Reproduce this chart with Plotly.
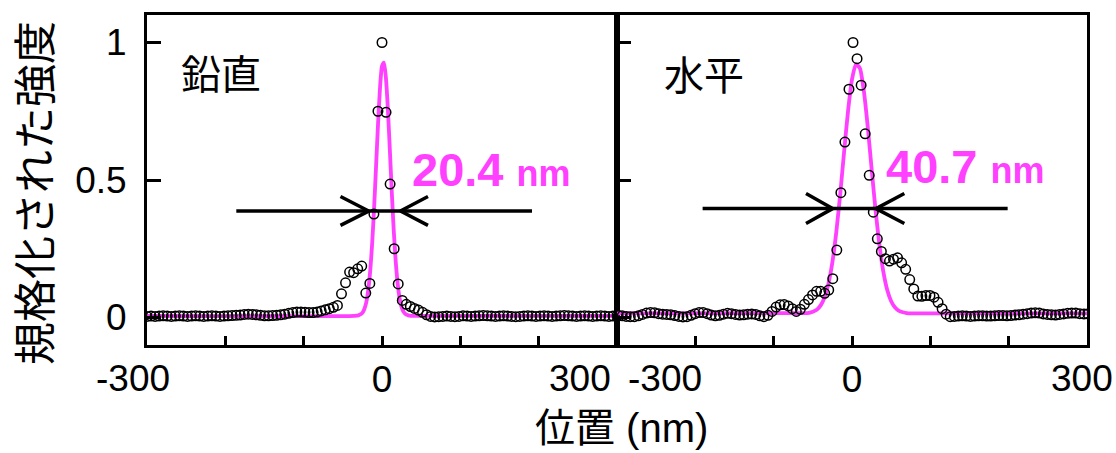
import numpy as np
import plotly.graph_objects as go

# ---------------- data ----------------
# sampling positions (nm)
x_vert = np.round(np.linspace(-300, 300, 117), 2)
x_horz = np.round(1.3 + 5.17 * np.arange(-58, 59), 2)

# normalized intensity, vertical profile (鉛直)
y_vert = [
    0.004, 0.005, 0.004, 0.005, 0.006, 0.005, 0.004, 0.005, 0.006, 0.005,
    0.004, 0.005, 0.006, 0.005, 0.004, 0.005, 0.006, 0.005, 0.004, 0.005,
    0.006, 0.007, 0.008,
    0.009, 0.011, 0.012, 0.011, 0.010, 0.008, 0.006, 0.006, 0.007, 0.008,
    0.010, 0.012, 0.015, 0.018, 0.020, 0.020, 0.019, 0.018, 0.018, 0.020,
    0.024, 0.028, 0.032,
    0.037, 0.044, 0.086, 0.126, 0.165, 0.163, 0.177, 0.187, 0.089, 0.124,
    0.376, 0.750,
    1.000,
    0.746, 0.485, 0.250, 0.122, 0.062, 0.048, 0.040, 0.033, 0.027, 0.019,
    0.010, 0.004, 0.002,
    0.003, 0.004, 0.005, 0.004, 0.003, 0.004, 0.006, 0.005, 0.004, 0.005,
    0.006, 0.007, 0.006, 0.005, 0.004, 0.005, 0.006, 0.005, 0.004, 0.003,
    0.004, 0.005, 0.006, 0.005, 0.004, 0.005, 0.006, 0.005, 0.004, 0.005,
    0.006, 0.007, 0.006, 0.005, 0.004, 0.005, 0.006, 0.005, 0.004, 0.005,
    0.006, 0.005, 0.004, 0.005, 0.006,
]

# normalized intensity, horizontal profile (水平)
y_horz = [
    0.008, 0.006, 0.004, 0.003, 0.003, 0.006, 0.011, 0.016, 0.018, 0.017,
    0.014, 0.012, 0.011, 0.010, 0.007, 0.004, 0.002, 0.003, 0.008, 0.014,
    0.018, 0.018, 0.014, 0.009, 0.006, 0.008, 0.012, 0.015, 0.014, 0.011,
    0.009, 0.010, 0.012, 0.013, 0.011, 0.006, 0.003,
    0.008, 0.022, 0.038, 0.046, 0.047, 0.042, 0.032, 0.022, 0.030, 0.048,
    0.065, 0.082, 0.095, 0.095, 0.088, 0.100, 0.141, 0.245, 0.454, 0.638,
    0.830,
    1.000,
    0.941, 0.845, 0.668, 0.517, 0.383, 0.286, 0.240, 0.214, 0.205, 0.212,
    0.217, 0.199, 0.175, 0.138, 0.104, 0.078, 0.077, 0.080, 0.080, 0.074,
    0.055, 0.032, 0.012, 0.003,
    0.004, 0.005, 0.006, 0.005, 0.004, 0.005, 0.006, 0.006, 0.005, 0.005,
    0.006, 0.007, 0.007, 0.006, 0.007, 0.009, 0.010, 0.012, 0.014, 0.016,
    0.017, 0.016, 0.013, 0.011, 0.010, 0.009, 0.011, 0.013, 0.015, 0.016,
    0.016, 0.014, 0.013, 0.013,
]

# Gaussian fit curves
fit_vert_x = [-300, -35, -30, -27.5, -25, -22.5, -20, -17.5, -15, -12.5, -10, -7.5,
              -5, -2.5, 0, 2.5, 5, 7.5, 10, 12.5, 15, 17.5, 20, 22.5, 25, 27.5, 30,
              32.5, 35, 40, 300]
fit_vert_y = [0.006, 0.006, 0.008, 0.011, 0.017, 0.031, 0.056, 0.101, 0.171, 0.272,
              0.403, 0.555, 0.707, 0.836, 0.914, 0.927, 0.871, 0.758, 0.611, 0.456,
              0.316, 0.204, 0.123, 0.070, 0.038, 0.021, 0.013, 0.009, 0.007, 0.006,
              0.006]
fit_horz_x = [-300, -60, -55, -50, -45, -40, -35, -30, -25, -20, -15, -10, -5, 0, 5,
              10, 15, 20, 25, 30, 35, 40, 45, 50, 55, 60, 65, 70, 75, 300]
fit_horz_y = [0.015, 0.016, 0.017, 0.021, 0.028, 0.044, 0.073, 0.124, 0.202, 0.312,
              0.450, 0.605, 0.752, 0.866, 0.921, 0.907, 0.826, 0.696, 0.542, 0.392,
              0.264, 0.167, 0.100, 0.059, 0.036, 0.024, 0.019, 0.016, 0.015, 0.015]

# FWHM arrow geometry (data units)
arrow_vert_x = [-186, 191.5, None, -53, -17, -53, None, 58.7, 23.5, 58.7]
arrow_vert_y = [0.387, 0.387, None, 0.44, 0.387, 0.335, None, 0.44, 0.387, 0.335]
arrow_horz_x = [-190.7, 198.7, None, -58.7, -24.8, -58.7, None, 66.8, 30.6, 66.8]
arrow_horz_y = [0.396, 0.396, None, 0.451, 0.396, 0.342, None, 0.451, 0.396, 0.342]

panel_labels = ["鉛直", "水平"]
fwhm_labels = ["20.4", "40.7"]
x_tick_vals = [-300, -200, -100, 0, 100, 200, 300]
x_tick_text = ["", "", "", "0", "", "", ""]
y_tick_vals = [0, 0.5, 1]
y_tick_text = ["0", "0.5", "1"]

MAGENTA = "#ff40ff"
FONT = "Liberation Sans, Arial, Noto Sans CJK JP"
CJK = "Noto Sans CJK JP, Liberation Sans"

fig = go.Figure()

for xa, ya, fx, fy, px, py, ax_, ay_ in [
    ("x", "y", fit_vert_x, fit_vert_y, x_vert, y_vert, arrow_vert_x, arrow_vert_y),
    ("x2", "y2", fit_horz_x, fit_horz_y, x_horz, y_horz, arrow_horz_x, arrow_horz_y),
]:
    fig.add_trace(go.Scatter(x=fx, y=fy, mode="lines", xaxis=xa, yaxis=ya,
                             line=dict(color=MAGENTA, width=3.8, shape="spline", smoothing=0.6),
                             showlegend=False, hoverinfo="skip"))
    fig.add_trace(go.Scatter(x=px, y=py, mode="markers", xaxis=xa, yaxis=ya,
                             marker=dict(symbol="circle-open", size=9.5, color="black",
                                         line=dict(width=1.5, color="black")),
                             showlegend=False))
    fig.add_trace(go.Scatter(x=ax_, y=ay_, mode="lines", xaxis=xa, yaxis=ya,
                             line=dict(color="black", width=3.5),
                             showlegend=False, hoverinfo="skip"))

axis_common = dict(range=[-300, 300], tickvals=x_tick_vals, ticktext=x_tick_text,
                   ticks="inside", ticklen=9, tickwidth=3, tickcolor="black",
                   showline=True, linewidth=3, linecolor="black", mirror=True,
                   showgrid=False, zeroline=False,
                   tickfont=dict(family=FONT, size=37, color="black"))
yaxis_common = dict(range=[-0.1, 1.1], tickvals=y_tick_vals, ticktext=y_tick_text,
                    ticks="inside", ticklen=14, tickwidth=3, tickcolor="black",
                    showline=True, linewidth=3, linecolor="black", mirror=True,
                    showgrid=False, zeroline=False,
                    tickfont=dict(family=FONT, size=37, color="black"))

fig.update_layout(
    width=1116, height=453,
    margin=dict(l=147, r=29, t=15, b=108),
    plot_bgcolor="white", paper_bgcolor="white",
    xaxis=dict(domain=[0, 0.5], anchor="y", **axis_common),
    xaxis2=dict(domain=[0.5, 1], anchor="y2", **axis_common),
    yaxis=dict(domain=[0, 1], anchor="x", ticklabelstandoff=10, **yaxis_common),
    yaxis2=dict(domain=[0, 1], anchor="x2", showticklabels=False, **yaxis_common),
)

ann = []
# panel labels
ann.append(dict(x=-259.5, y=0.893, xref="x", yref="y", xanchor="left", yanchor="middle",
                text=panel_labels[0], showarrow=False, font=dict(family=CJK, size=40, color="black")))
ann.append(dict(x=-242.2, y=0.89, xref="x2", yref="y2", xanchor="left", yanchor="middle",
                text=panel_labels[1], showarrow=False, font=dict(family=CJK, size=40, color="black")))
# FWHM values
ann.append(dict(x=36.1, y=0.54, xref="x", yref="y", xanchor="left", yanchor="middle",
                text="<b>" + fwhm_labels[0] + " <span style='font-size:36px'>nm</span></b>",
                showarrow=False, font=dict(family=FONT, size=47, color=MAGENTA)))
ann.append(dict(x=41.2, y=0.55, xref="x2", yref="y2", xanchor="left", yanchor="middle",
                text="<b>" + fwhm_labels[1] + " <span style='font-size:36px'>nm</span></b>",
                showarrow=False, font=dict(family=FONT, size=47, color=MAGENTA)))
# edge x tick labels
tick_font = dict(family=FONT, size=37, color="black")
ann.append(dict(x=-300, y=-0.1, xref="x", yref="paper", xanchor="center", yanchor="middle",
                xshift=-14, text="-300", showarrow=False, font=tick_font))
ann.append(dict(x=300, y=-0.1, xref="x", yref="paper", xanchor="right", yanchor="middle",
                xshift=-4, text="300", showarrow=False, font=tick_font))
ann.append(dict(x=-300, y=-0.1, xref="x2", yref="paper", xanchor="left", yanchor="middle",
                xshift=9, text="-300", showarrow=False, font=tick_font))
ann.append(dict(x=300, y=-0.1, xref="x2", yref="paper", xanchor="center", yanchor="middle",
                xshift=-5, text="300", showarrow=False, font=tick_font))
# axis titles
ann.append(dict(x=-0.1225, y=0.46, xref="paper", yref="paper", xanchor="center", yanchor="middle",
                text="規格化された強度", textangle=-90, showarrow=False,
                font=dict(family=CJK, size=43, color="black")))
ann.append(dict(x=0.5048, y=-0.2515, xref="paper", yref="paper", xanchor="center", yanchor="middle",
                text="位置 (nm)", showarrow=False,
                font=dict(family=FONT, size=40, color="black")))
fig.update_layout(annotations=ann)

fig.write_html("out.html", config={"displayModeBar": False},
               post_script="document.body.style.margin='0';document.body.style.padding='0';")
